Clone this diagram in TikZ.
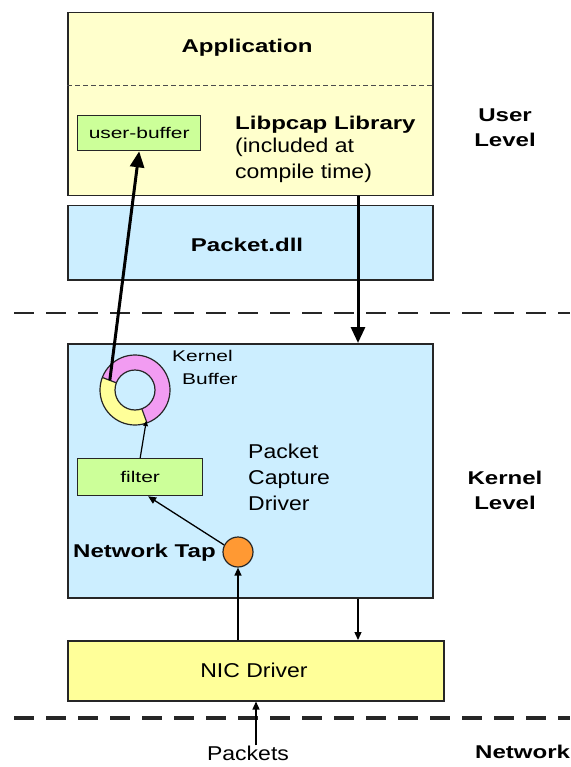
\documentclass[tikz,border=0pt]{standalone}
\usepackage{fontspec}
\setmainfont{Liberation Sans}
\newfontfamily\boldwide{Liberation Sans}[FakeStretch=1.3]
\newfontfamily\plainwide{Liberation Sans}[FakeStretch=1.15]
\newfontfamily\smallwide{Liberation Sans}[FakeStretch=1.35]
\usetikzlibrary{arrows.meta,calc}

\definecolor{appyellow}{HTML}{FFFFCC}
\definecolor{nicyellow}{HTML}{FFFF99}
\definecolor{paleblue}{HTML}{CCEEFF}
\definecolor{bufgreen}{HTML}{CCFF99}
\definecolor{ringpink}{HTML}{F29CF2}
\definecolor{ringyellow}{HTML}{FFFF99}
\definecolor{taporange}{HTML}{FF9933}

\tikzset{
  layerbox/.style={draw=black!85, line width=1.5pt, anchor=north west, inner sep=0pt},
  smallbox/.style={draw=black!85, line width=1.3pt, fill=bufgreen, anchor=north west, inner sep=0pt},
  bigtitle/.style={font=\boldwide\bfseries\fontsize{18.5}{25}\selectfont, inner sep=0pt},
  plaintext/.style={font=\plainwide\fontsize{20}{26}\selectfont, inner sep=0pt},
  smalltext/.style={font=\smallwide\fontsize{15.5}{23}\selectfont, inner sep=0pt},
  levelsep/.style={draw=black!85, dash pattern=on 20pt off 12pt},
  heavyflow/.style={line width=3pt, -{Triangle[length=16pt,width=14pt]}},
  lightflow/.style={line width=1.3pt, -{Triangle[length=8pt,width=7pt]}},
}

\begin{document}
\begin{tikzpicture}[x=1pt,y=-1pt]
\useasboundingbox (0,0) rectangle (570,767);

% layer boxes
\node[layerbox, fill=appyellow, minimum width=365pt, minimum height=183pt] (app) at (67,12) {};
\draw[black!70, line width=0.8pt, dash pattern=on 5pt off 3pt] (app.west |- 0,85) -- (app.east |- 0,85);
\node[layerbox, fill=paleblue, minimum width=365pt, minimum height=74pt] (dll) at (67,205) {};
\node[layerbox, fill=paleblue, minimum width=365pt, minimum height=254pt] (kern) at (67,343) {};
\node[layerbox, fill=nicyellow, minimum width=376pt, minimum height=60pt] (nic) at (67,640) {};

% level separators
\draw[levelsep, line width=2.5pt] (14,313) -- (570,313);
\draw[levelsep, line width=3.5pt] (14,718) -- (570,718);

% texts of the layers
\node[bigtitle] (apptxt) at (247,48) {Application};
\node[bigtitle, anchor=west] (libtxt) at (235,125) {Libpcap Library};
\node[plaintext, anchor=north west, align=left] (libnote) at (235,138) {(included at\\compile time)};
\node[bigtitle] (dlltxt) at (247,245) {Packet.dll};
\node[plaintext, anchor=west, align=left] (pcdtxt) at (248,477) {Packet\\Capture\\Driver};
\node[plaintext] (nictxt) at (254,670) {NIC Driver};
\node[plaintext] (pkts) at (248,753) {Packets};

% level names
\node[bigtitle, align=center] (userlvl) at (505,128) {User\\Level};
\node[bigtitle, align=center] (kernlvl) at (505,490) {Kernel\\Level};
\node[bigtitle, anchor=west] (netlvl) at (475,752) {Network};

% buffers and filter
\node[smallbox, minimum width=123pt, minimum height=35pt] (ubuf) at (77,115) {};
\node[smalltext] at (ubuf.center) {user-buffer};
\node[smallbox, minimum width=125pt, minimum height=37pt] (filt) at (77,458) {};
\node[smalltext] at (filt.center) {filter};

% kernel ring buffer
\coordinate (ring) at (135,390);
\fill[ringpink, even odd rule] (ring) circle (35pt) (ring) circle (20pt);
\fill[ringyellow] ($(ring)+(159:35pt)$) arc[start angle=159, end angle=290, radius=35pt]
   -- ($(ring)+(290:20pt)$) arc[start angle=290, end angle=159, radius=20pt] -- cycle;
\draw[black!85, line width=1.2pt] (ring) circle (35pt) (ring) circle (20pt);
\draw[black!85, line width=1.2pt] ($(ring)+(159:35pt)$) -- ($(ring)+(159:20pt)$)
   ($(ring)+(290:35pt)$) -- ($(ring)+(290:20pt)$);
\coordinate (ringout) at ($(ring)+(159:27pt)$);
\coordinate (ringin) at ($(ring)+(290:33pt)$);
\node[smalltext, anchor=west, align=left] (kbuf) at (172,367) {Kernel\\\hspace*{10pt}Buffer};

% network tap
\node[circle, draw=black!85, line width=1.2pt, fill=taporange, minimum size=30pt, inner sep=0pt] (tap) at (238,552) {};
\node[bigtitle, anchor=west] (taptxt) at (73,553) {Network Tap};

% packet flow
\coordinate (downx) at (358,0);
\draw[heavyflow] (app.south -| downx) -- (kern.north -| downx);
\draw[heavyflow] (ringout) -- (ubuf.south);
\draw[line width=1.2pt, -{Triangle[length=5pt,width=5pt]}] (filt.north) -- (ringin);
\draw[lightflow] (tap.153) -- ([xshift=8pt]filt.south);
\draw[lightflow] (nic.north -| tap) -- (tap.south);
\draw[lightflow] (kern.south -| downx) -- (nic.north -| downx);
\draw[lightflow] ([xshift=8pt]pkts.north) -- ([xshift=8pt]pkts.north |- nic.south);
\end{tikzpicture}
\end{document}
